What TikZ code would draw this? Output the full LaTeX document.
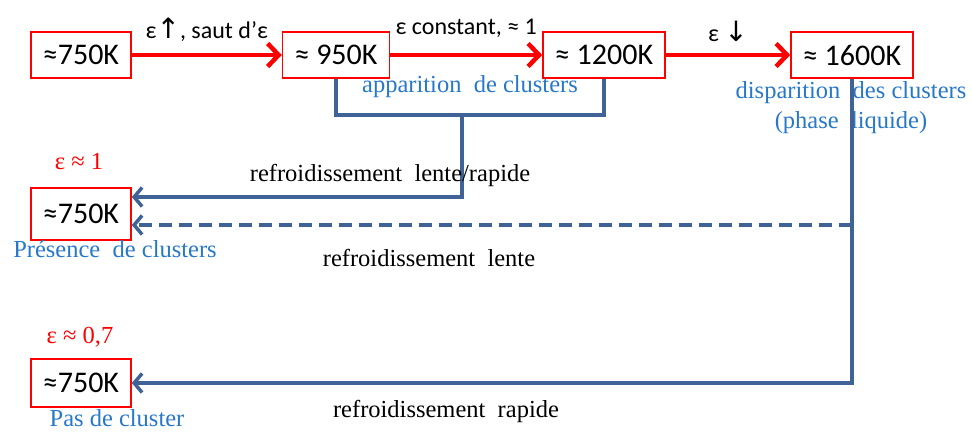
\documentclass[tikz,border=0pt]{standalone}
\usepackage{fontspec}
\setmainfont{Liberation Serif}
\newfontfamily\calib{Carlito}
\newfontfamily\symb{DejaVu Sans}
\usetikzlibrary{arrows.meta, positioning, calc}
\definecolor{kred}{HTML}{FF0000}
\definecolor{kline}{HTML}{3F6396}
\definecolor{ktext}{HTML}{2878C8}

\begin{document}
\begin{tikzpicture}[
  x=1pt, y=-1pt,
  tempnode/.style={rectangle, draw=kred, line width=1.5pt, inner xsep=12pt, minimum height=46pt, font=\calib\fontsize{30}{32}\selectfont},
  heatline/.style={-{Straight Barb[length=11pt, width=23pt, line width=4.5pt]}, kred, line width=4.5pt},
  coolline/.style={kline, line width=3.5pt},
  coolarrow/.style={coolline, -{Straight Barb[length=8pt, width=19pt, line width=3.5pt]}},
  steplabel/.style={font=\calib\fontsize{24}{26}\selectfont, text=black},
  bluenote/.style={font=\fontsize{24.5}{30}\selectfont, text=ktext, align=center},
  rednote/.style={font=\fontsize{24.5}{26}\selectfont, text=kred},
  coolnote/.style={font=\fontsize{24.5}{26}\selectfont, text=black},
]
\useasboundingbox (0,0) rectangle (972,432);

% Heating sequence
\node[tempnode] (t750) at (81,55) {≈750K};
\node[tempnode] (t950) at (336,55) {≈ 950K};
\node[tempnode] (t1200) at (604,55) {≈ 1200K};
\node[tempnode] (t1600) at (852,55) {≈ 1600K};

\draw[heatline] (t750) -- node[steplabel, above=8pt] {ε{\symb\fontsize{28}{28}\selectfont↑}, saut d’ε} (t950);
\draw[heatline] (t950) -- node[steplabel, above=12pt] {ε constant, ≈ 1} (t1200);
\draw[heatline] (t1200) -- node[steplabel, above=8pt] {ε {\symb\fontsize{28}{28}\selectfont↓}} (t1600);

\node[bluenote] (appar) at (470,87) {apparition~ de clusters};
\node[bluenote] (dispar) at (851,108) {disparition~ des clusters\\(phase~ liquide)};

% Cooling results
\node[tempnode, minimum height=52pt] (m750) at (81,214) {≈750K};
\node[tempnode, minimum height=48pt] (b750) at (81,383) {≈750K};

\node[rednote] (eps1) at (79,162) {ε ≈ 1};
\node[bluenote] (pres) at (115,249) {Présence~ de clusters};
\node[rednote] (eps2) at (80,337) {ε ≈ 0,7};
\node[bluenote] (pas) at (117,418) {Pas de cluster};

% Cooling paths
\coordinate (brk) at (462,115);
\draw[coolline] (t950.south) |- (brk) -| (t1200.south);
\draw[coolarrow] (brk) |- ([yshift=17pt]m750.east);
\draw[coolarrow] (t1600.south) |- (b750.east);
\draw[coolarrow, dash pattern=on 13pt off 7pt] ([yshift=-11pt]m750.east -| t1600.south) -- ([yshift=-11pt]m750.east);

\node[coolnote] (c1) at (390,175) {refroidissement~ lente/rapide};
\node[coolnote] (c2) at (429,258) {refroidissement~ lente};
\node[coolnote] (c3) at (446,411) {refroidissement~ rapide};

\end{tikzpicture}
\end{document}
